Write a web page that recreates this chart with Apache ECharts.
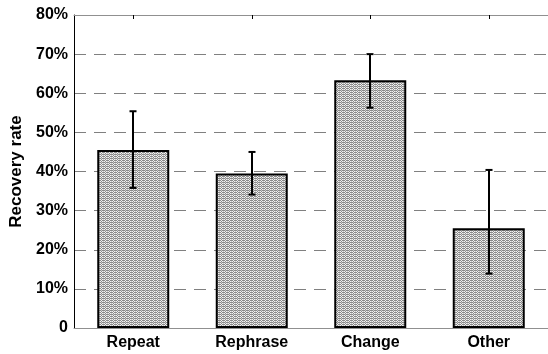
<!DOCTYPE html>
<html>
<head>
<meta charset="utf-8">
<script src="https://cdn.jsdelivr.net/npm/echarts@6/dist/echarts.min.js"></script>
<style>
html,body{margin:0;padding:0;background:#fff;}
#c{width:548px;height:354px;}
</style>
</head>
<body>
<div id="c"></div>
<script>
var categories = ['Repeat', 'Rephrase', 'Change', 'Other'];
var recoveryRate = [45.5, 39.5, 63.3, 25.5];
var errorLow = [35.8, 34.1, 56.3, 13.9];
var errorHigh = [55.4, 45.0, 70.0, 40.4];
var yTicks = [0, 10, 20, 30, 40, 50, 60, 70, 80];

// stipple pattern fill
var pc = document.createElement('canvas');
pc.width = 4; pc.height = 4;
var pctx = pc.getContext('2d');
pctx.fillStyle = '#f2f2f2';
pctx.fillRect(0, 0, 4, 4);
pctx.fillStyle = '#8a8a8a';
[[0,0],[2,0],[1,1],[3,2],[0,2],[2,2],[1,3],[3,0]].forEach(function(p){ pctx.fillRect(p[0], p[1], 1, 1); });
pctx.fillStyle = '#c8c8c8';
[[3,1],[1,2],[3,3]].forEach(function(p){ pctx.fillRect(p[0], p[1], 1, 1); });

var chart = echarts.init(document.getElementById('c'), null, {renderer: 'canvas'});
var font = 'Liberation Sans, Arial, Helvetica, sans-serif';

var errData = categories.map(function(c, i){ return [i, errorLow[i], errorHigh[i]]; });

chart.setOption({
  animation: false,
  grid: {left: 74, top: 15, width: 480, bottom: 26, containLabel: false},
  xAxis: [{
    type: 'category',
    data: categories,
    position: 'bottom',
    axisLine: {show: true, lineStyle: {color: '#909090', width: 1}},
    axisTick: {show: false},
    axisLabel: {color: '#000', fontFamily: font, fontWeight: 'bold', fontSize: 16, margin: 7}
  }, {
    type: 'category',
    data: categories,
    position: 'top',
    axisLine: {show: true, lineStyle: {color: '#909090', width: 1}},
    axisTick: {show: true, inside: true, alignWithLabel: true, length: 4, lineStyle: {color: '#000', width: 1}},
    axisLabel: {show: false}
  }],
  yAxis: {
    type: 'value',
    min: 0, max: 80, interval: 10,
    name: 'Recovery rate',
    nameLocation: 'middle',
    nameGap: 47,
    nameTextStyle: {color: '#000', fontFamily: font, fontWeight: 'bold', fontSize: 17},
    axisLine: {show: true, lineStyle: {color: '#000', width: 1}},
    axisTick: {show: false},
    axisLabel: {
      color: '#000', fontFamily: font, fontWeight: 'bold', fontSize: 16, margin: 6,
      formatter: function(v){ return v === 0 ? '0' : v + '%'; }
    },
    splitLine: {show: true, lineStyle: {color: '#808080', width: 1, type: [12, 8]}}
  },
  series: [{
    type: 'bar',
    data: recoveryRate,
    barWidth: 72,
    itemStyle: {
      color: {image: pc, repeat: 'repeat'},
      borderColor: '#000',
      borderWidth: 2
    },
    z: 2
  }, {
    type: 'custom',
    data: errData,
    z: 3,
    renderItem: function(params, api){
      var x = api.value(0);
      var lo = api.coord([x, api.value(1)]);
      var hi = api.coord([x, api.value(2)]);
      var cx = Math.round(lo[0]);
      var hw = 3.5;
      var st = {stroke: '#000', lineWidth: 2};
      return {type: 'group', children: [
        {type: 'line', shape: {x1: cx, y1: lo[1], x2: cx, y2: hi[1]}, style: st},
        {type: 'line', shape: {x1: cx - hw, y1: lo[1], x2: cx + hw, y2: lo[1]}, style: st},
        {type: 'line', shape: {x1: cx - hw, y1: hi[1], x2: cx + hw, y2: hi[1]}, style: st}
      ]};
    }
  }]
});
</script>
</body>
</html>
